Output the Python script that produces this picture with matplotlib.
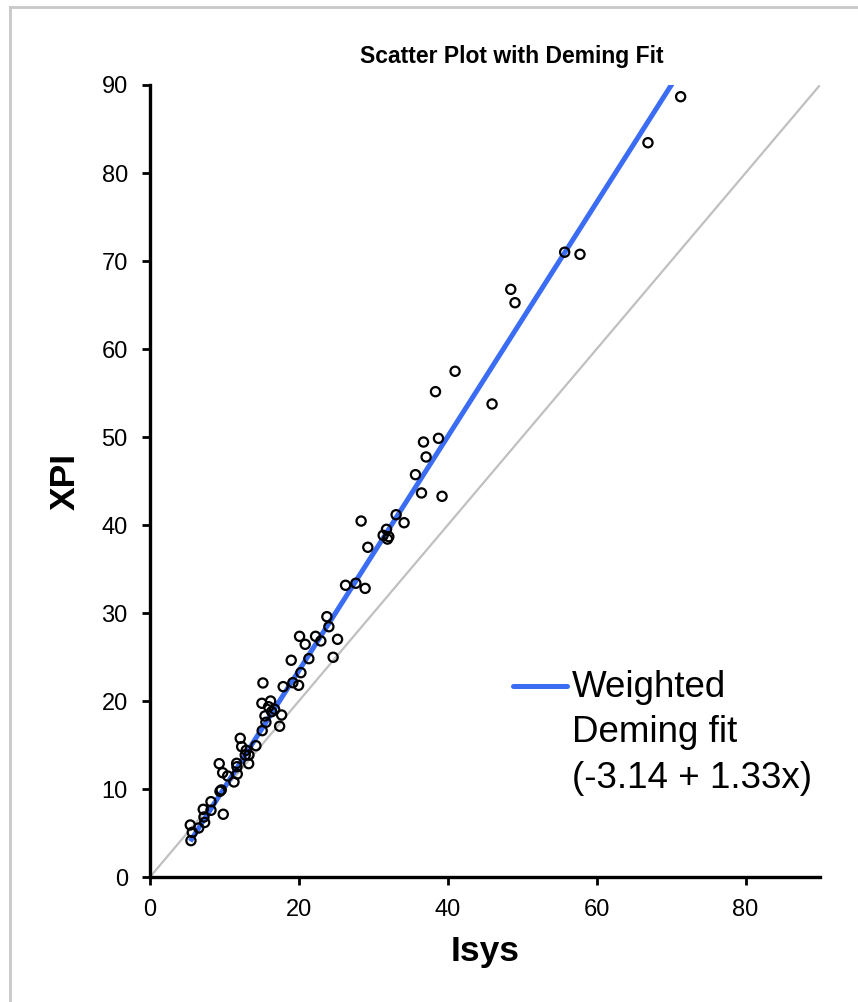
import numpy as np
import matplotlib.pyplot as plt
from matplotlib.lines import Line2D

plt.rcParams['font.family'] = ['Liberation Sans', 'DejaVu Sans']

# Isys (x) and XPI (y) readings
isys = np.array([71.28, 66.89, 55.70, 57.76, 48.46, 49.03, 40.98, 38.35, 45.95,
                 38.75, 36.74, 37.09, 35.66, 36.47, 39.23, 33.06, 28.36, 34.13,
                 31.77, 31.32, 32.08, 31.90, 29.26, 26.27, 27.65, 28.90, 23.76,
                 24.03, 20.09, 22.24, 20.85, 22.95, 25.19, 21.34, 24.60, 18.97,
                 20.27, 19.96, 19.19, 17.89, 15.17, 15.03, 16.20, 15.93, 16.74,
                 16.34, 17.68, 15.44, 15.57, 17.41, 15.07, 14.23, 12.12, 12.31,
                 12.93, 12.79, 13.29, 11.64, 11.68, 13.25, 9.30, 9.76, 10.43,
                 11.72, 11.28, 9.40, 9.57, 8.19, 7.15, 8.19, 7.25, 9.84, 6.54,
                 7.34, 5.41, 5.68, 5.50])
xpi = np.array([88.67, 83.44, 71.00, 70.76, 66.78, 65.26, 57.47, 55.15, 53.75,
                49.85, 49.43, 47.73, 45.72, 43.64, 43.26, 41.17, 40.45, 40.26,
                39.51, 38.83, 38.67, 38.40, 37.47, 33.15, 33.38, 32.80, 29.58,
                28.44, 27.35, 27.35, 26.44, 26.82, 27.01, 24.81, 24.97, 24.63,
                23.22, 21.78, 22.08, 21.63, 22.05, 19.74, 20.00, 19.35, 19.06,
                18.78, 18.41, 18.30, 17.58, 17.13, 16.63, 14.92, 15.76, 14.81,
                14.40, 13.86, 13.86, 12.92, 12.53, 12.88, 12.88, 11.85, 11.48,
                11.70, 10.80, 9.74, 9.89, 8.56, 7.69, 7.58, 6.82, 7.13, 5.57,
                6.20, 5.91, 5.08, 4.13])

intercept = -3.14
slope = 1.33
ticks = [0, 20, 40, 60, 80]
yticks = [0, 10, 20, 30, 40, 50, 60, 70, 80, 90]

fig = plt.figure(figsize=(8.58, 10.02), dpi=100)
ax = fig.add_axes([150/858, 125/1002, 670/858, 792/1002])

# identity line
ax.plot([0, 90], [0, 90], color='#c0c0c0', lw=1.6, zorder=1)

# deming fit over the data range
xf = np.array([isys.min(), isys.max()])
ax.plot(xf, intercept + slope * xf, color='#3a6cf4', lw=3.6, zorder=2,
        solid_capstyle='butt')

ax.scatter(isys, xpi, s=44, facecolors='none', edgecolors='black',
           linewidths=1.6, zorder=3)

ax.set_xlim(0, 90)
ax.set_ylim(0, 90)
ax.set_xticks(ticks)
ax.set_yticks(yticks)
for s in ['top', 'right']:
    ax.spines[s].set_visible(False)
for s in ['left', 'bottom']:
    ax.spines[s].set_linewidth(2.4)
ax.tick_params(direction='out', length=6, width=2, labelsize=17, pad=10)

ax.set_xlabel('Isys', fontsize=25.5, fontweight='bold', labelpad=10)
ax.set_ylabel('XPI', fontsize=25.5, fontweight='bold', labelpad=14)

fig.text(512/858, 1 - 57/1002, 'Scatter Plot with Deming Fit', ha='center',
         va='center', fontsize=16.5, fontweight='bold')

# legend drawn by hand so the line sits beside the first text row
ax.add_line(Line2D([(513-150)/670, (567-150)/670], [(877-686)/792] * 2,
                   transform=ax.transAxes, color='#3a6cf4', lw=3.6,
                   solid_capstyle='round', clip_on=False))
ax.text((572-150)/670, (877-670)/792,
        'Weighted\nDeming fit\n(-3.14 + 1.33x)', transform=ax.transAxes,
        fontsize=26.5, va='top', ha='left', linespacing=1.38)

# figure frame (left and top edges visible)
fig.add_artist(Line2D([10/858, 10/858], [0, 1 - 7/1002], transform=fig.transFigure,
                      color='#c8c8c8', lw=2))
fig.add_artist(Line2D([10/858, 1], [1 - 7/1002] * 2, transform=fig.transFigure,
                      color='#c8c8c8', lw=2))

fig.savefig('out.png', dpi=100)
